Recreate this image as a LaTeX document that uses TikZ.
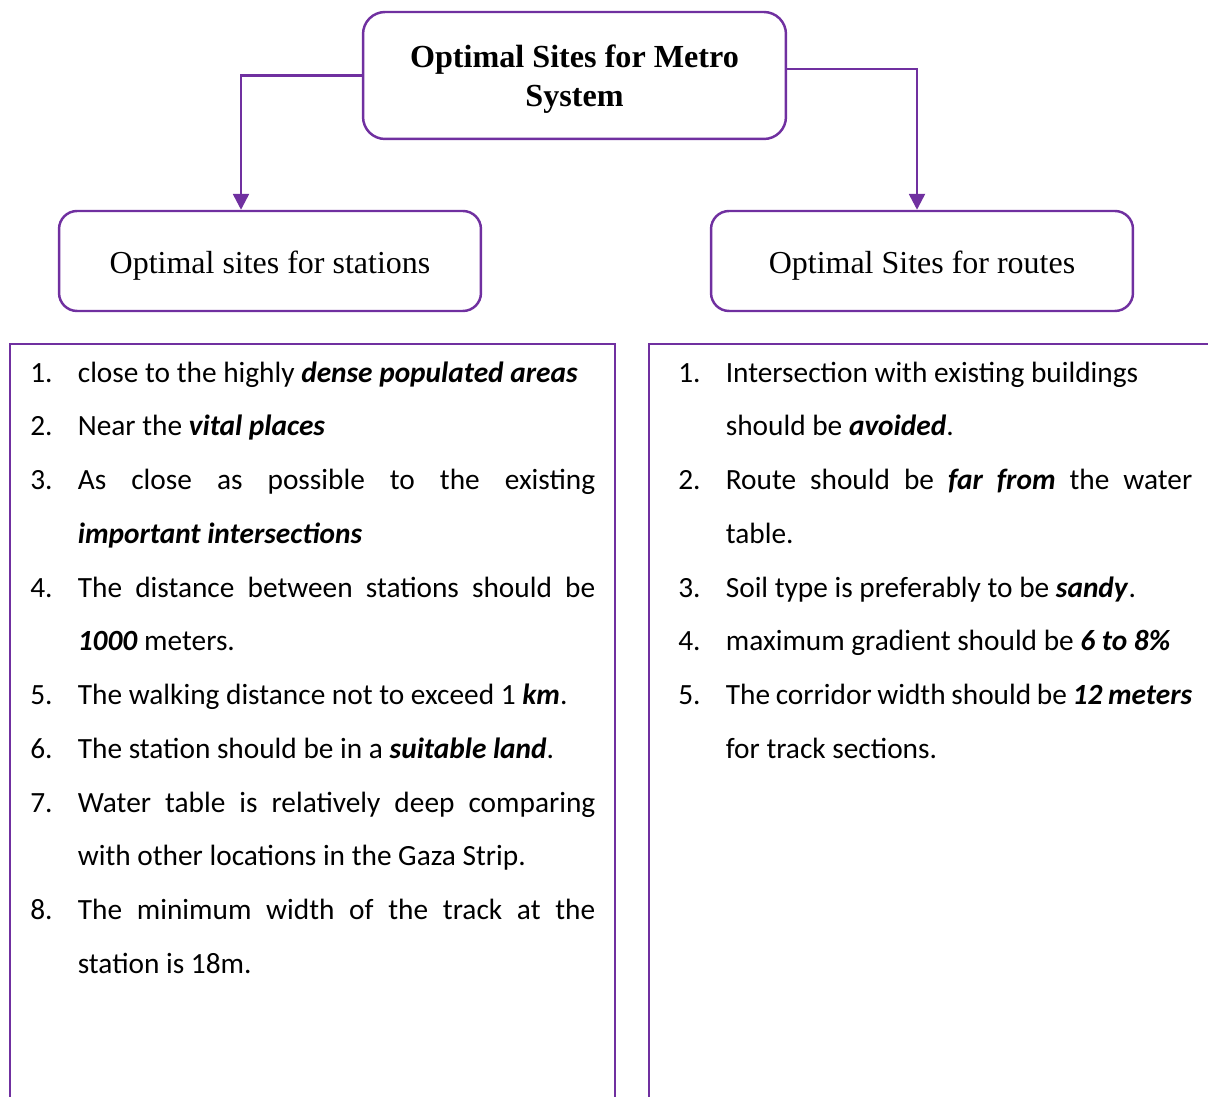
\documentclass[tikz,border=0pt]{standalone}
\usepackage{fontspec}
\setmainfont{Liberation Serif}
\newfontfamily\listfont{Carlito}
\usepackage{enumitem}
\usepackage{tikz}
\usetikzlibrary{arrows.meta,positioning}
\usepackage{xcolor}
\definecolor{metropurple}{HTML}{7030A0}
\newcommand{\key}[1]{\textbf{\textit{#1}}}
\setlist[enumerate]{leftmargin=0.95cm,labelwidth=0.95cm,labelsep=0pt,align=left,topsep=0pt,partopsep=0pt,itemsep=0pt,parsep=0pt}

\tikzset{
	title/.style={draw=metropurple,line width=1.4pt,rounded corners=0.44cm,minimum width=8.46cm,minimum height=2.54cm,align=center,text depth=0pt,font=\fontsize{18.3}{22}\selectfont\bfseries},
	branch/.style={draw=metropurple,line width=1.4pt,rounded corners=0.36cm,minimum width=8.44cm,minimum height=2cm,text height=0.63cm,text depth=0.14cm,font=\fontsize{18.2}{21}\selectfont},
	link/.style={draw=metropurple,line width=1.4pt,-{Triangle[width=9pt,length=9pt]}},
	panel/.style={draw=metropurple,line width=0.6pt},
	points/.style={anchor=north west,inner sep=0pt,align=justify,font=\listfont\fontsize{16.7}{30.6}\selectfont}
}

\begin{document}
\begin{tikzpicture}[x=0.02cm,y=-0.02cm]
	\useasboundingbox (0,0) rectangle (1208,1097);
	\clip (0,0) rectangle (1208,1097);

	\node[title] (metro) at (574.5,75.5) {Optimal Sites for Metro\\System};
	\node[branch] (stations) at (270,261) {Optimal sites for stations};
	\node[branch] (routes) at (922,261) {Optimal Sites for routes};

	\draw[link] (metro.west) -| ([xshift=-0.58cm]stations.north);
	\draw[link] ([yshift=0.13cm]metro.east) -| ([xshift=-0.1cm]routes.north);

	% criteria panels
	\draw[panel] (10,1130) |- (615,344) -- (615,1130);
	\draw[panel] (649,1130) |- (1240,344);

	\node[points,text width=11.3cm] (stationlist) at (30,328) {%
		\begin{enumerate}
			\item close to the highly \key{dense populated areas}
			\item Near the \key{vital places}
			\item As close as possible to the existing\linebreak \key{important intersections}
			\item The distance between stations should be\linebreak \key{1000} meters.
			\item The walking distance not to exceed 1 \key{km}.
			\item The station should be in a \key{suitable land}.
			\item Water table is relatively deep comparing\linebreak with other locations in the Gaza Strip.
			\item The minimum width of the track at the\linebreak station is 18m.
		\end{enumerate}};

	\node[points,text width=10.28cm] (routelist) at (678,328) {%
		\begin{enumerate}
			\item Intersection with existing buildings\newline should be \key{avoided}.
			\item Route should be \key{far from} the water\linebreak table.
			\item Soil type is preferably to be \key{sandy}.
			\item maximum gradient should be \key{6 to 8\%}
			\item The corridor width should be \key{12 meters}\linebreak for track sections.
		\end{enumerate}};
\end{tikzpicture}
\end{document}
